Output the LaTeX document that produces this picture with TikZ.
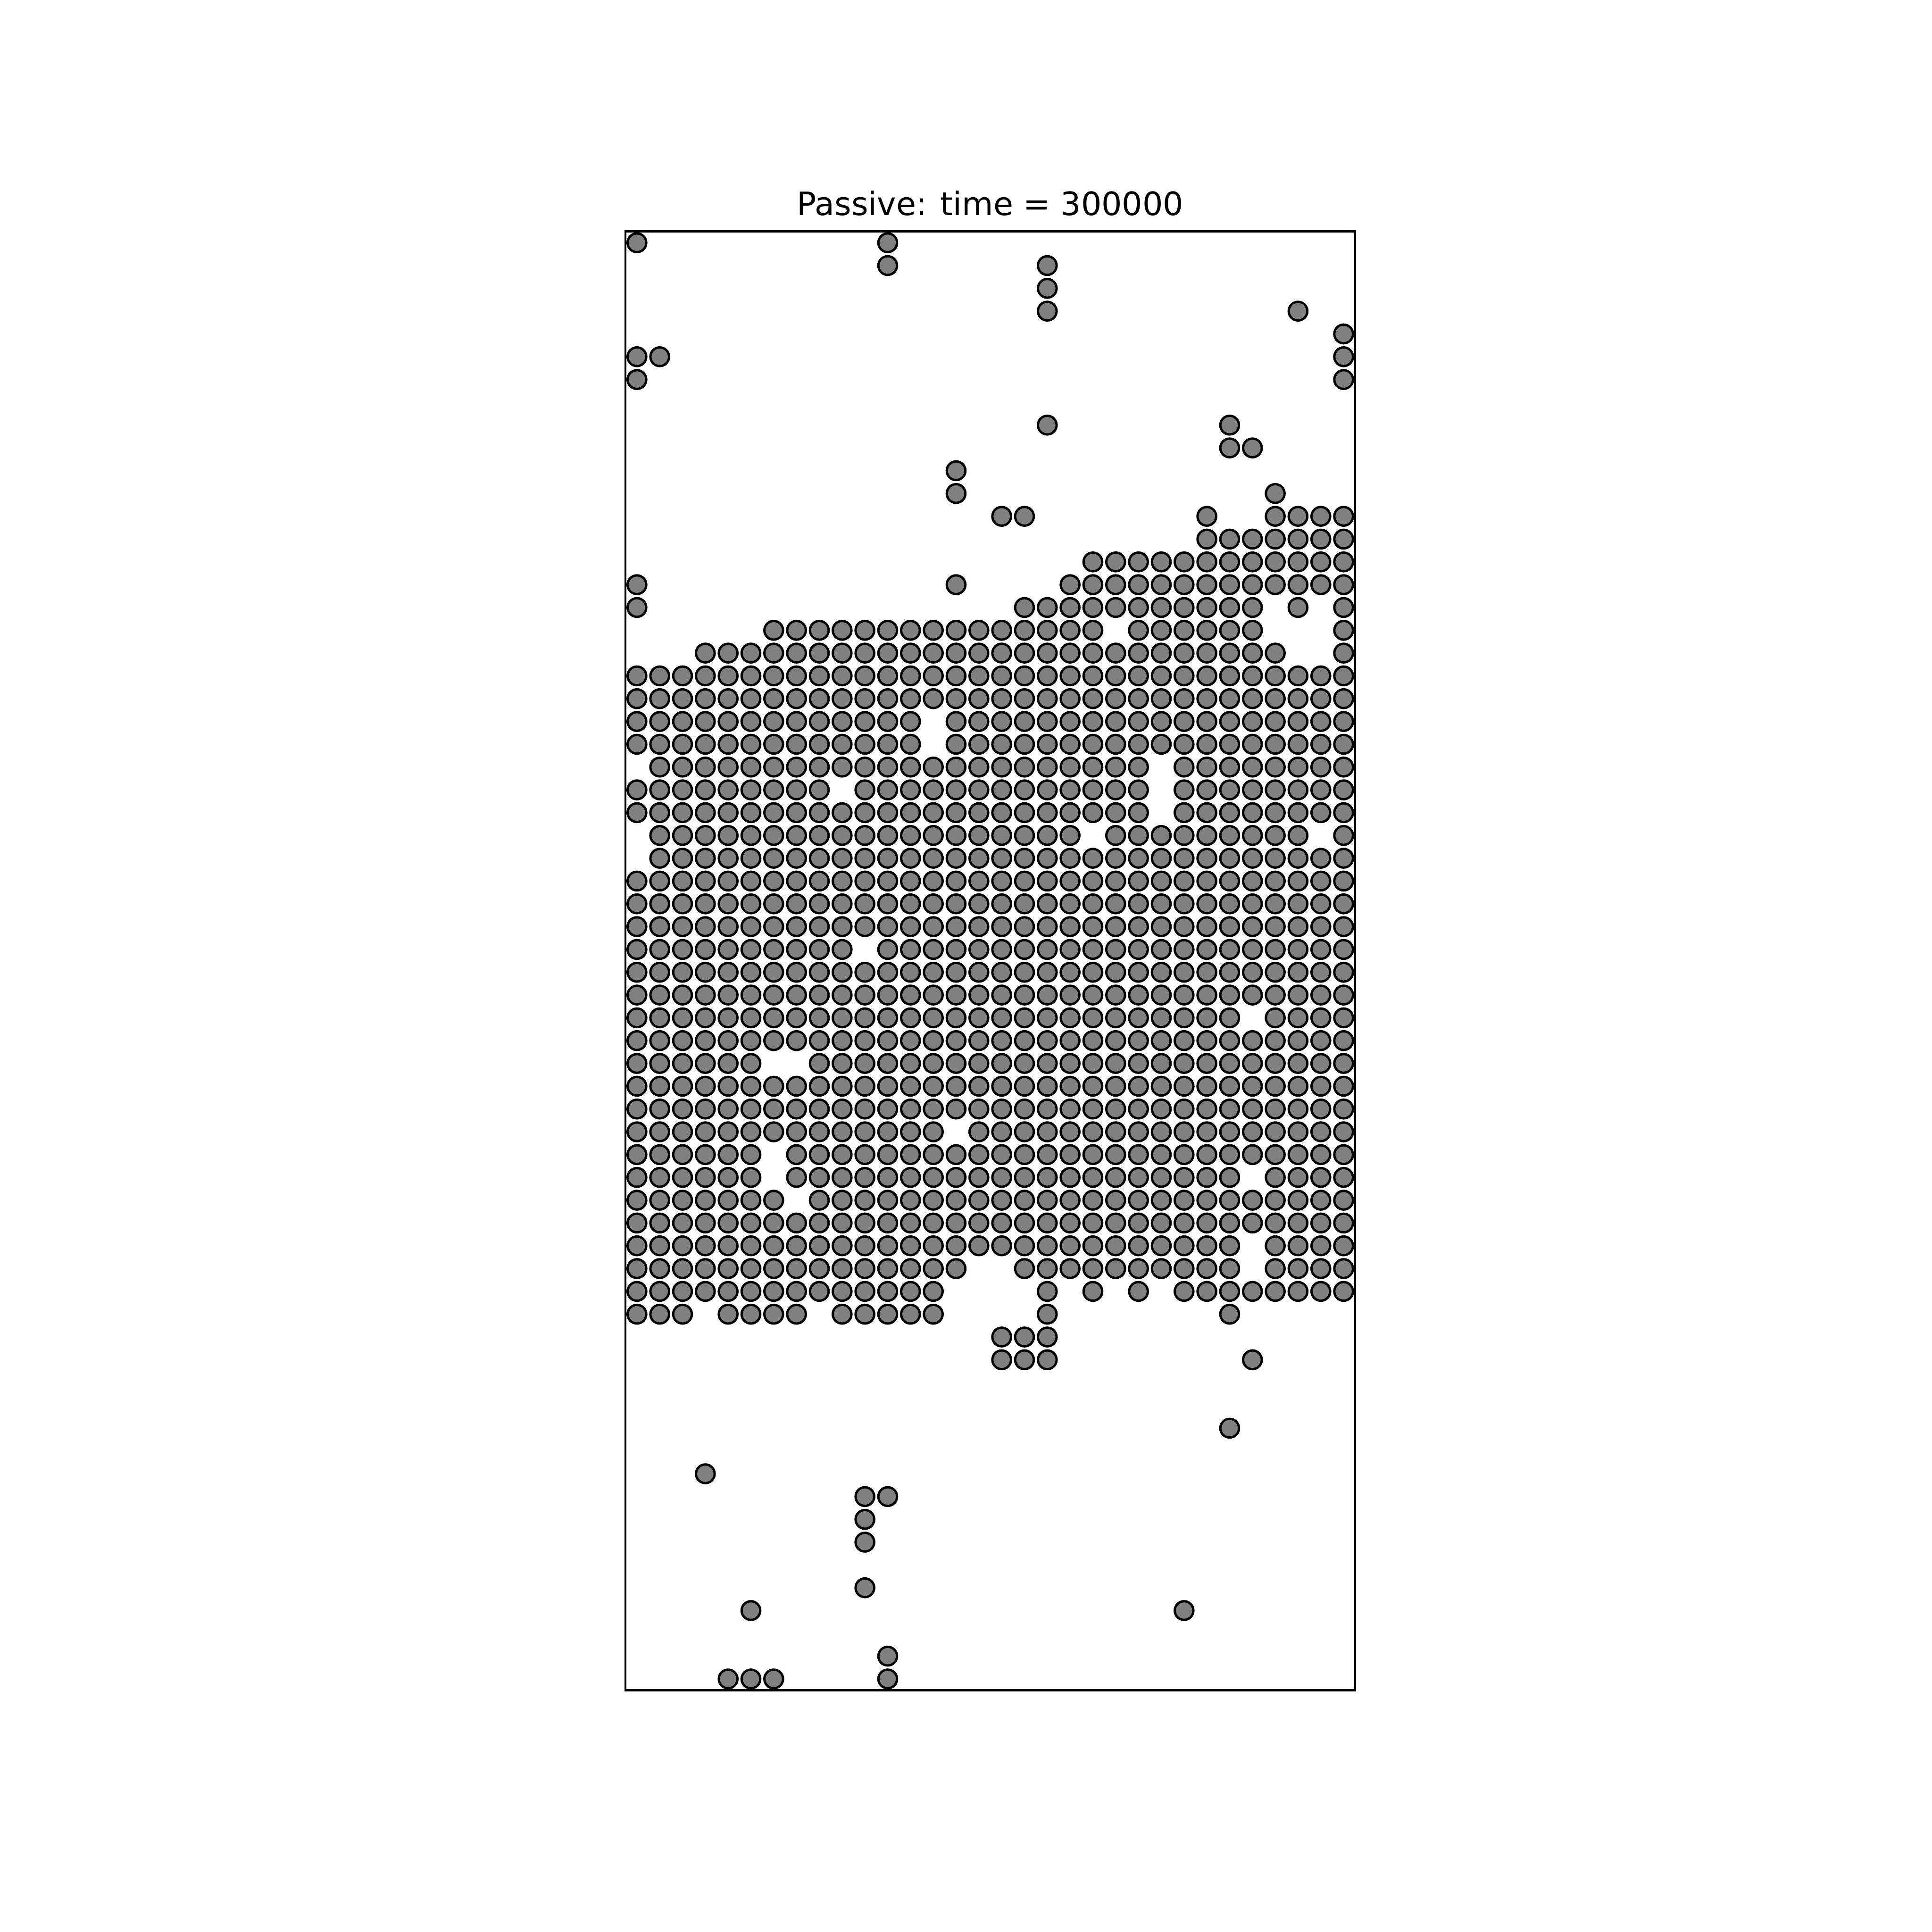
\documentclass[tikz,border=0pt]{standalone}
\usepackage{fontspec}
\setmainfont{DejaVu Sans}
\tikzset{bead/.style={draw=black, fill=gray, line width=0.87pt}}
\begin{document}
\begin{tikzpicture}[x=0.29972cm, y=0.29972cm]
	\useasboundingbox (-27.44,-10.59) rectangle (57.31,74.15);
	\node[anchor=base, inner sep=0pt, font=\fontsize{12bp}{14bp}\selectfont] (title) at (16,64.71) {Passive: time = 300000};
	% occupied cells: row / {first/last column, ...}
	\foreach \j/\segs in {0/{0/0,11/11}, 1/{11/11,18/18}, 2/{18/18}, 3/{18/18,29/29},
		4/{31/31}, 5/{0/1,31/31}, 6/{0/0,31/31}, 8/{18/18,26/26}, 9/{26/27},
		10/{14/14}, 11/{14/14,28/28}, 12/{16/17,25/25,28/31}, 13/{25/31}, 14/{20/31},
		15/{0/0,14/14,19/31}, 16/{0/0,17/27,29/29,31/31}, 17/{6/20,22/27,31/31},
		18/{3/28,31/31}, 19/{0/31}, 20/{0/31}, 21/{0/12,14/31}, 22/{0/12,14/31},
		23/{1/22,24/31}, 24/{0/8,10/22,24/31}, 25/{0/22,24/31}, 26/{1/19,21/29,31/31},
		27/{1/31}, 28/{0/31}, 29/{0/31}, 30/{0/31}, 31/{0/9,11/31}, 32/{0/31},
		33/{0/31}, 34/{0/26,28/31}, 35/{0/31}, 36/{0/5,8/31}, 37/{0/31}, 38/{0/31},
		39/{0/13,15/31}, 40/{0/5,7/31}, 41/{0/5,7/26,28/31}, 42/{0/6,8/31},
		43/{0/31}, 44/{0/26,28/31}, 45/{0/14,17/26,28/31},
		46/{0/13,18/18,20/20,22/22,24/31}, 47/{0/2,4/7,9/13,18/18,26/26},
		48/{16/18}, 49/{16/18,27/27}, 52/{26/26}, 54/{3/3}, 55/{10/11},
		56/{10/10}, 57/{10/10}, 59/{10/10}, 60/{5/5,24/24}, 62/{11/11}, 63/{4/6,11/11}}
	\foreach \a/\b in \segs
	\foreach \i in {\a,...,\b}
	\draw[bead] (\i+0.5,63.5-\j) circle (0.41);
	\draw[line width=0.8pt] (0,0) rectangle (32,64);
\end{tikzpicture}
\end{document}
